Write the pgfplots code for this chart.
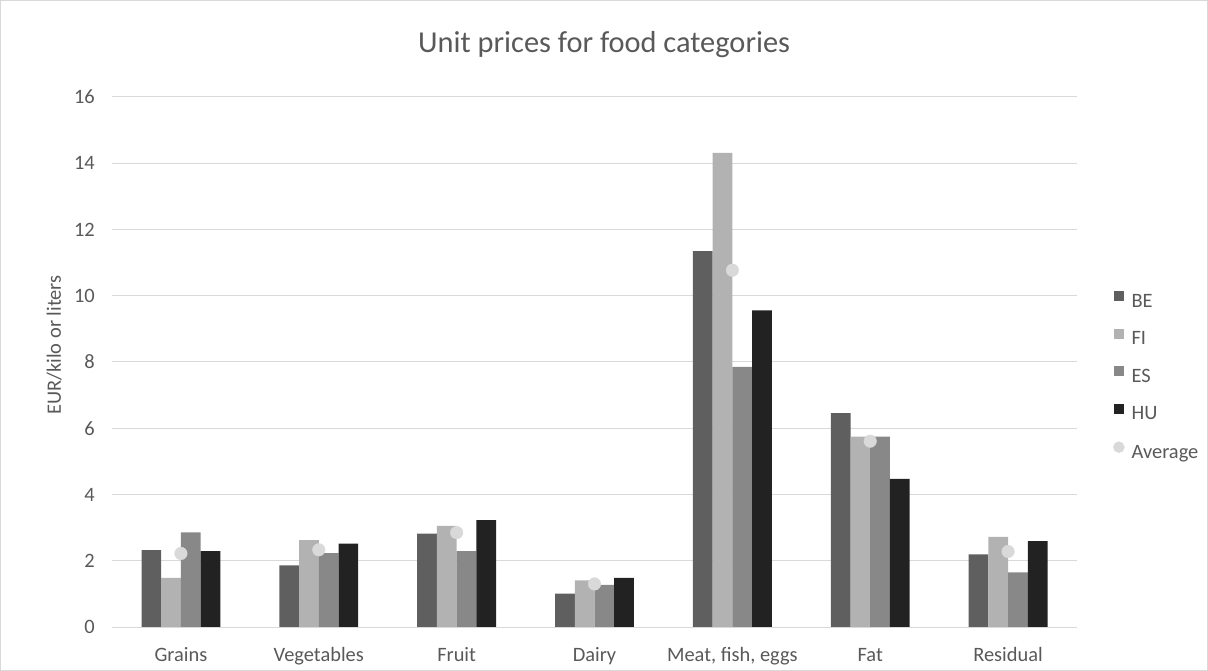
\documentclass[border=0pt]{standalone}
\usepackage{fontspec}
\setmainfont{Carlito}
\usepackage{pgfplots}
\pgfplotsset{compat=1.18}

\definecolor{cBE}{RGB}{95,95,95}
\definecolor{cFI}{RGB}{178,178,178}
\definecolor{cES}{RGB}{136,136,136}
\definecolor{cHU}{RGB}{34,34,34}
\definecolor{cAvg}{RGB}{217,217,217}
\definecolor{gridc}{RGB}{217,217,217}
\definecolor{txt}{RGB}{89,89,89}

\newcommand{\lbl}{\fontsize{20.5}{24}\selectfont}

\pgfplotsset{
  barleg/.style={legend image code/.code={\fill[##1] (0bp,1bp) rectangle (10bp,11bp);}},
}

\begin{document}
\begin{tikzpicture}
\useasboundingbox (0,0) rectangle (1208bp,671bp);
\draw[gridc, line width=1bp] (0.5bp,0.5bp) rectangle (1207.5bp,670.5bp);
\begin{axis}[
  at={(112bp,44bp)}, anchor=south west,
  scale only axis,
  width=965bp, height=530bp,
  xmin=-0.5, xmax=6.5,
  ymin=0, ymax=16,
  xtick={0,...,6},
  xticklabels={Grains, Vegetables, Fruit, Dairy, {Meat, fish, eggs}, Fat, Residual},
  ytick={0,2,...,16},
  axis line style={draw=none},
  tick style={draw=none},
  ymajorgrids,
  major grid style={gridc, line width=1bp},
  /pgf/number format/assume math mode=true,
  tick label style={font=\lbl, text=txt, inner sep=0pt},
  xticklabel style={anchor=base, yshift=-34bp},
  yticklabel style={anchor=east, xshift=-17bp},
  ylabel={EUR/kilo or liters},
  ylabel style={font=\lbl, text=txt, inner sep=0pt, anchor=base,
    at={(axis description cs:-0.053,0.532)}},
  title={Unit prices for food categories},
  title style={font=\fontsize{30.5}{35}\selectfont, text=txt, inner sep=0pt,
    anchor=base, at={(axis description cs:0.51,1)}, yshift=39bp},
  legend cell align=left,
  legend style={draw=none, fill=none, at={(axis description cs:1,0.472)},
    anchor=west, xshift=36bp, inner sep=0pt, row sep=17.5bp,
    font=\lbl, text=txt,
    nodes={inner sep=0pt, text height=14bp, text depth=4bp},
    /tikz/every odd column/.append style={column sep=7bp}},
]
\addplot[ybar, bar width=0.143, bar shift=-0.2145, fill=cBE, draw=none, barleg]
  coordinates {(0,2.32) (1,1.86) (2,2.82) (3,1.01) (4,11.35) (5,6.46) (6,2.19)};
\addplot[ybar, bar width=0.143, bar shift=-0.0715, fill=cFI, draw=none, barleg]
  coordinates {(0,1.48) (1,2.62) (2,3.05) (3,1.41) (4,14.31) (5,5.75) (6,2.72)};
\addplot[ybar, bar width=0.143, bar shift=0.0715, fill=cES, draw=none, barleg]
  coordinates {(0,2.86) (1,2.23) (2,2.29) (3,1.27) (4,7.85) (5,5.75) (6,1.65)};
\addplot[ybar, bar width=0.143, bar shift=0.2145, fill=cHU, draw=none, barleg]
  coordinates {(0,2.29) (1,2.52) (2,3.23) (3,1.48) (4,9.56) (5,4.47) (6,2.59)};
\addplot[color=cAvg, only marks, mark=*, mark size=6.3bp, mark options={fill=cAvg, draw=none},
  legend image code/.code={\fill[cAvg] (5bp,6bp) circle (5.5bp);}]
  coordinates {(0,2.22) (1,2.33) (2,2.85) (3,1.30) (4,10.77) (5,5.61) (6,2.28)};
\legend{BE, FI, ES, HU, Average}
\end{axis}
\end{tikzpicture}
\end{document}
